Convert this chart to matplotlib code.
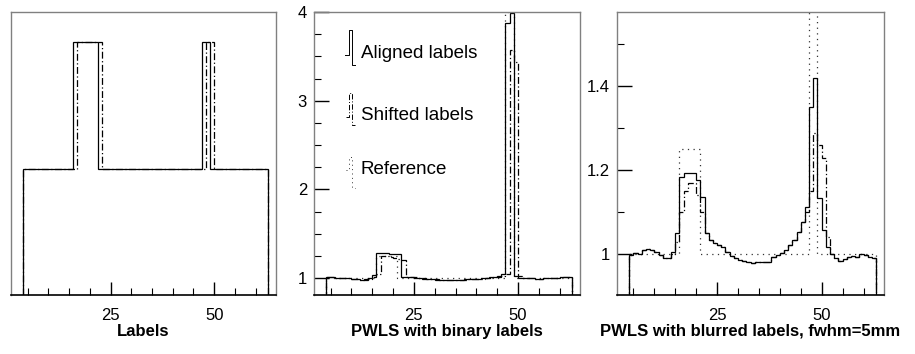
import numpy as np
import matplotlib
matplotlib.use("Agg")
import matplotlib.pyplot as plt

plt.rcParams['font.family'] = ['Liberation Sans', 'DejaVu Sans']

# bin edges (one bin per unit, 4 .. 63)
edges = np.arange(4, 64)

# panel 1: label images
labels_aligned = [1]*12 + [2]*6 + [1]*25 + [2]*2 + [1]*14
labels_shifted = [1]*13 + [2]*6 + [1]*25 + [2]*2 + [1]*13

# reference (true) image, used in panels 2 and 3
reference = [1.0]*12 + [1.25]*5 + [1.0]*26 + [4.0]*2 + [1.0]*14

# panel 2: PWLS with binary labels
binary_aligned = [1.01, 1.01, 1.00, 1.00, 1.00, 1.00, 0.99, 0.99, 0.98, 0.99, 1.00, 1.03,
                  1.28, 1.28, 1.28, 1.27, 1.27, 1.27,
                  1.01, 1.01, 1.01, 1.00, 1.00, 0.99, 0.99, 0.99, 0.98, 0.98, 0.98, 0.98,
                  0.98, 0.98, 0.98, 0.99, 0.99, 0.99, 0.99, 1.00, 1.00, 1.01, 1.01, 1.02, 1.05,
                  3.88, 3.99,
                  1.02, 1.00, 1.00, 1.00, 1.00, 0.99, 0.99, 1.00, 1.00, 1.00, 1.00, 1.01, 1.01, 1.01]
binary_shifted = [1.01, 1.01, 1.00, 1.00, 1.00, 1.00, 0.99, 0.99, 0.98, 0.98, 0.99, 1.01, 1.05,
                  1.25, 1.25, 1.24, 1.23, 1.22, 1.20,
                  1.01, 1.01, 1.01, 1.00, 1.00, 0.99, 0.99, 0.99, 0.98, 0.98, 0.98, 0.98,
                  0.98, 0.98, 0.98, 0.99, 0.99, 0.99, 0.99, 1.00, 1.00, 1.01, 1.01, 1.02, 1.05,
                  3.57, 3.44,
                  1.02, 1.00, 1.00, 1.00, 0.99, 0.99, 1.00, 1.00, 1.00, 1.00, 1.01, 1.01, 1.01]

# panel 3: PWLS with blurred labels
blurred_aligned = [0.998, 1.002, 1.001, 1.009, 1.013, 1.009, 1.006, 0.998, 0.990, 0.990, 1.006, 1.050,
                   1.185, 1.193, 1.194, 1.193, 1.177, 1.137,
                   1.050, 1.034, 1.028, 1.022, 1.018, 1.006, 0.996, 0.990, 0.986, 0.984, 0.981,
                   0.980, 0.981, 0.981, 0.981, 0.982, 0.994, 0.998, 1.002, 1.010, 1.022, 1.034,
                   1.054, 1.078, 1.113,
                   1.350, 1.421,
                   1.133, 1.058, 1.017, 1.001, 0.990, 0.985, 0.988, 0.994, 0.996, 0.994, 1.001,
                   0.998, 0.993, 0.990]
blurred_shifted = [0.998, 1.002, 1.001, 1.009, 1.013, 1.009, 1.006, 0.998, 0.990, 0.990, 1.000, 1.030,
                   1.100, 1.150, 1.170, 1.170, 1.140, 1.100,
                   1.050, 1.034, 1.028, 1.022, 1.018, 1.006, 0.996, 0.990, 0.986, 0.984, 0.981,
                   0.980, 0.981, 0.981, 0.981, 0.982, 0.994, 0.998, 1.002, 1.010, 1.022, 1.034,
                   1.054, 1.078, 1.100,
                   1.150, 1.290,
                   1.260, 1.230, 1.040, 1.001, 0.990, 0.985, 0.988, 0.994, 0.996, 0.994, 1.001,
                   0.998, 0.993, 0.990]

titles = ["Labels", "PWLS with binary labels", "PWLS with blurred labels, fwhm=5mm"]

solid = dict(color='black', lw=0.9, linestyle='-')
dashdot = dict(color='black', lw=0.9, linestyle=(0, (5.5, 2.0, 1.0, 2.0)))
dotted = dict(color='#333333', lw=0.9, linestyle=(0, (1, 3.5)))

W, H = 915, 354
fig = plt.figure(figsize=(W/100, H/100), dpi=100)


def make_axes(x0, x1):
    ax = fig.add_axes([x0/W, (H-295)/H, (x1-x0)/W, 283/H])
    for s in ['top', 'right', 'left']:
        ax.spines[s].set_color('#808080')
        ax.spines[s].set_linewidth(1.0)
    ax.spines['bottom'].set_color('black')
    ax.spines['bottom'].set_linewidth(1.2)
    ax.set_xlim(1.0, 64.9)
    ax.set_xticks([25, 50])
    ax.set_xticks([5, 10, 15, 20, 30, 35, 40, 45, 55, 60], minor=True)
    ax.tick_params(axis='x', which='major', direction='in', length=9.5, width=1.0,
                   labelsize=12, pad=9, top=False)
    ax.tick_params(axis='x', which='minor', direction='in', length=5, width=0.8, top=False)
    return ax


ax1 = make_axes(11, 276)
ax2 = make_axes(314, 580)
ax3 = make_axes(616.7, 884)

# panel 1
ax1.stairs(labels_aligned, edges, baseline=0, **solid)
ax1.stairs(labels_shifted, edges, baseline=0, **dashdot)
ax1.set_ylim(0, 2.24)
ax1.set_yticks([])

# panel 2
ax2.stairs(reference, edges, baseline=0, **dotted)
ax2.stairs(binary_shifted, edges, baseline=0, **dashdot)
ax2.stairs(binary_aligned, edges, baseline=0, **solid)
ax2.set_ylim(0.81, 4.0)
ax2.set_yticks([1, 2, 3, 4])
ax2.set_yticklabels(['1', '2', '3', '4'])
ax2.set_yticks(np.arange(1, 4.01, 0.25), minor=True)

# panel 3
ax3.stairs(reference, edges, baseline=0, **dotted)
ax3.stairs(blurred_shifted, edges, baseline=0, **dashdot)
ax3.stairs(blurred_aligned, edges, baseline=0, **solid)
ax3.set_ylim(0.903, 1.577)
ax3.set_yticks([1.0, 1.2, 1.4])
ax3.set_yticklabels(['1', '1.2', '1.4'])
ax3.set_yticks([1.1, 1.3, 1.5], minor=True)

for ax in (ax2, ax3):
    ax.tick_params(axis='y', which='major', direction='in', length=11, width=1.0,
                   labelsize=12, pad=5, right=False)
    ax.tick_params(axis='y', which='minor', direction='in', length=5, width=0.8, right=False)

for ax, t in zip((ax1, ax2, ax3), titles):
    ax.set_xlabel(t, fontsize=12, fontweight='bold', labelpad=1)

# legend drawn inside panel 2 (small step symbols like the original)
def to_ax(px, py):
    return (px - 314) / 266, (295 - py) / 283

leg = [
    ("Aligned labels", solid, [(345, 55), (349, 55), (349, 30), (352, 30), (352, 65), (355, 65)], 53),
    ("Shifted labels", dashdot, [(346, 117), (349, 117), (349, 93), (352, 93), (352, 125), (355, 125)], 115),
    ("Reference", dotted, [(346, 170), (349, 170), (349, 157), (352, 157), (352, 188), (355, 188)], 170),
]
for text, style, pts, ty in leg:
    xy = [to_ax(*p) for p in pts]
    ax2.plot([p[0] for p in xy], [p[1] for p in xy], transform=ax2.transAxes,
             color=style['color'], lw=0.7, linestyle=style['linestyle'])
    tx, tyy = to_ax(361, ty)
    ax2.text(tx, tyy, text, transform=ax2.transAxes, fontsize=13.5, va='center', ha='left')

fig.savefig('out.png', dpi=100)
